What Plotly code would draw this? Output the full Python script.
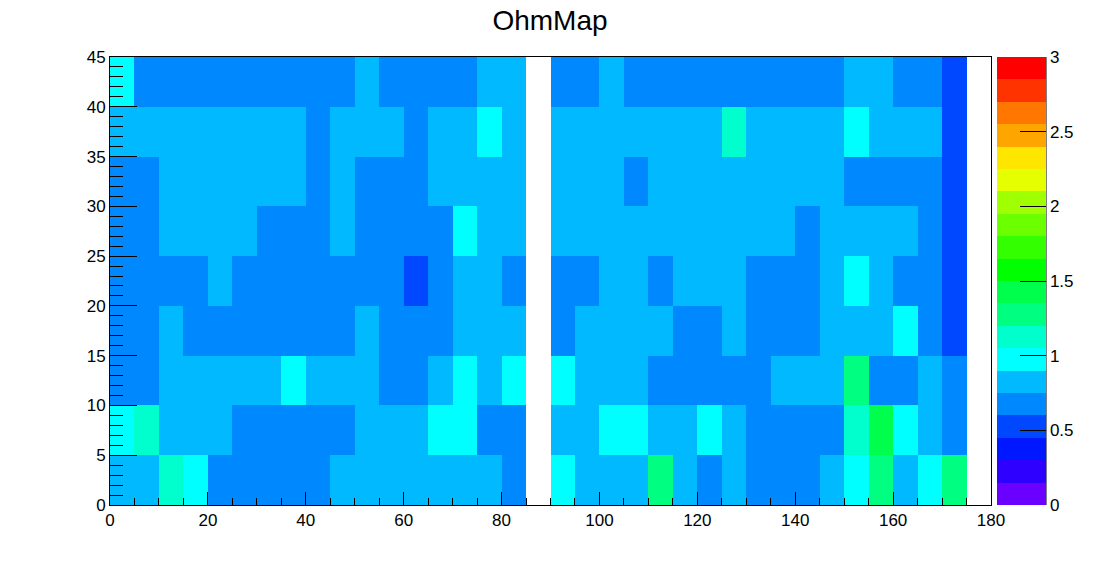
import plotly.graph_objects as go

# bin edges of the map
x_edges = list(range(0, 185, 5))
y_edges = list(range(0, 50, 5))

# values per row, bottom row first, 36 columns of 5 each
row_00 = [0.82, 0.82, 1.12, 0.98, 0.68, 0.68, 0.68, 0.68, 0.68, 0.82, 0.82, 0.82, 0.82, 0.82, 0.82, 0.82, 0.68, None,
          0.98, 0.82, 0.82, 0.82, 1.28, 0.82, 0.68, 0.82, 0.68, 0.68, 0.68, 0.82, 0.98, 1.28, 0.82, 0.98, 1.28, None]
row_05 = [0.98, 1.12, 0.82, 0.82, 0.82, 0.68, 0.68, 0.68, 0.68, 0.68, 0.82, 0.82, 0.82, 0.98, 0.98, 0.68, 0.68, None,
          0.82, 0.82, 0.98, 0.98, 0.82, 0.82, 0.98, 0.82, 0.68, 0.68, 0.68, 0.68, 1.12, 1.42, 0.98, 0.82, 0.68, None]
row_10 = [0.68, 0.68, 0.82, 0.82, 0.82, 0.82, 0.82, 0.98, 0.82, 0.82, 0.82, 0.68, 0.68, 0.82, 0.98, 0.82, 0.98, None,
          0.98, 0.82, 0.82, 0.82, 0.68, 0.68, 0.68, 0.68, 0.68, 0.82, 0.82, 0.82, 1.28, 0.68, 0.68, 0.82, 0.68, None]
row_15 = [0.68, 0.68, 0.82, 0.68, 0.68, 0.68, 0.68, 0.68, 0.68, 0.68, 0.82, 0.68, 0.68, 0.68, 0.82, 0.82, 0.82, None,
          0.68, 0.82, 0.82, 0.82, 0.82, 0.68, 0.68, 0.82, 0.68, 0.68, 0.68, 0.82, 0.82, 0.82, 0.98, 0.68, 0.52, None]
row_20 = [0.68, 0.68, 0.68, 0.68, 0.82, 0.68, 0.68, 0.68, 0.68, 0.68, 0.68, 0.68, 0.52, 0.68, 0.82, 0.82, 0.68, None,
          0.68, 0.68, 0.82, 0.82, 0.68, 0.82, 0.82, 0.82, 0.68, 0.68, 0.68, 0.82, 0.98, 0.82, 0.68, 0.68, 0.52, None]
row_25 = [0.68, 0.68, 0.82, 0.82, 0.82, 0.82, 0.68, 0.68, 0.68, 0.82, 0.68, 0.68, 0.68, 0.68, 0.98, 0.82, 0.82, None,
          0.82, 0.82, 0.82, 0.82, 0.82, 0.82, 0.82, 0.82, 0.82, 0.82, 0.68, 0.82, 0.82, 0.82, 0.82, 0.68, 0.52, None]
row_30 = [0.68, 0.68, 0.82, 0.82, 0.82, 0.82, 0.82, 0.82, 0.68, 0.82, 0.68, 0.68, 0.68, 0.82, 0.82, 0.82, 0.82, None,
          0.82, 0.82, 0.82, 0.68, 0.82, 0.82, 0.82, 0.82, 0.82, 0.82, 0.82, 0.82, 0.68, 0.68, 0.68, 0.68, 0.52, None]
row_35 = [0.82, 0.82, 0.82, 0.82, 0.82, 0.82, 0.82, 0.82, 0.68, 0.82, 0.82, 0.82, 0.68, 0.82, 0.82, 0.98, 0.82, None,
          0.82, 0.82, 0.82, 0.82, 0.82, 0.82, 0.82, 1.12, 0.82, 0.82, 0.82, 0.82, 0.98, 0.82, 0.82, 0.82, 0.52, None]
row_40 = [0.98, 0.68, 0.68, 0.68, 0.68, 0.68, 0.68, 0.68, 0.68, 0.68, 0.82, 0.68, 0.68, 0.68, 0.68, 0.82, 0.82, None,
          0.68, 0.68, 0.82, 0.68, 0.68, 0.68, 0.68, 0.68, 0.68, 0.68, 0.68, 0.68, 0.82, 0.82, 0.68, 0.68, 0.52, None]
ohm_values = [row_00, row_05, row_10, row_15, row_20, row_25, row_30, row_35, row_40]

# palette bands, bottom to top of the colour bar
band_colors = ["#6a00ff", "#2e00ff", "#0018ff", "#0048ff", "#0088ff", "#00b9ff", "#00ffff", "#00ffcc", "#00ff80", "#00ff4c",
               "#00ff00", "#33ff00", "#6cff00", "#a0ff00", "#e5ff00", "#ffe600", "#ffa500", "#ff7700", "#ff3300", "#ff0000"]

# stepped colour scale, one flat stretch per band
colorscale = []
for i, color in enumerate(band_colors):
    colorscale.append([i / len(band_colors), color])
    colorscale.append([(i + 1) / len(band_colors), color])

FONT = "Liberation Sans"

fig = go.Figure(go.Heatmap(
    x=x_edges,
    y=y_edges,
    z=ohm_values,
    zmin=0,
    zmax=3,
    colorscale=colorscale,
    colorbar=dict(
        x=(997 - 110) / 881, xanchor="left", xpad=0,
        y=0.5, yanchor="middle", ypad=0, len=1,
        thickness=49,
        outlinewidth=0,
        ticks="inside", ticklen=26, tickcolor="black", tickwidth=1,
        tickvals=[0, 0.5, 1, 1.5, 2, 2.5, 3],
        ticktext=["0", "0.5", "1", "1.5", "2", "2.5", "3"],
        tickfont=dict(family=FONT, size=17, color="black"),
    ),
))

fig.update_xaxes(
    range=[0, 180], showgrid=False, zeroline=False,
    showline=True, mirror=True, linecolor="black", linewidth=1,
    ticks="inside", ticklen=13, tickcolor="black", dtick=20, tick0=0,
    minor=dict(ticks="inside", ticklen=7, tickcolor="black", dtick=5, tick0=0, showgrid=False),
    tickfont=dict(family=FONT, size=17, color="black"),
)
fig.update_yaxes(
    range=[0, 45], showgrid=False, zeroline=False,
    showline=True, mirror=True, linecolor="black", linewidth=1,
    ticks="inside", ticklen=27, tickcolor="black", dtick=5, tick0=0,
    minor=dict(ticks="inside", ticklen=13, tickcolor="black", dtick=1, tick0=0, showgrid=False),
    tickfont=dict(family=FONT, size=17, color="black"),
)

# right edge of the colour bar
fig.add_shape(type="line", xref="paper", yref="paper",
              x0=(1046 - 110) / 881, x1=(1046 - 110) / 881, y0=0, y1=1,
              line=dict(color="black", width=1))

# the page adds 8px around the figure, so the figure is that much smaller
fig.update_layout(
    width=1094,
    height=554,
    margin=dict(l=102, r=111, t=49, b=57, autoexpand=False),
    paper_bgcolor="white",
    plot_bgcolor="white",
    title=dict(text="OhmMap", x=0.4954, xanchor="center", y=0.978, yanchor="middle",
               font=dict(family=FONT, size=28, color="black")),
)

fig.write_html("out.html")
